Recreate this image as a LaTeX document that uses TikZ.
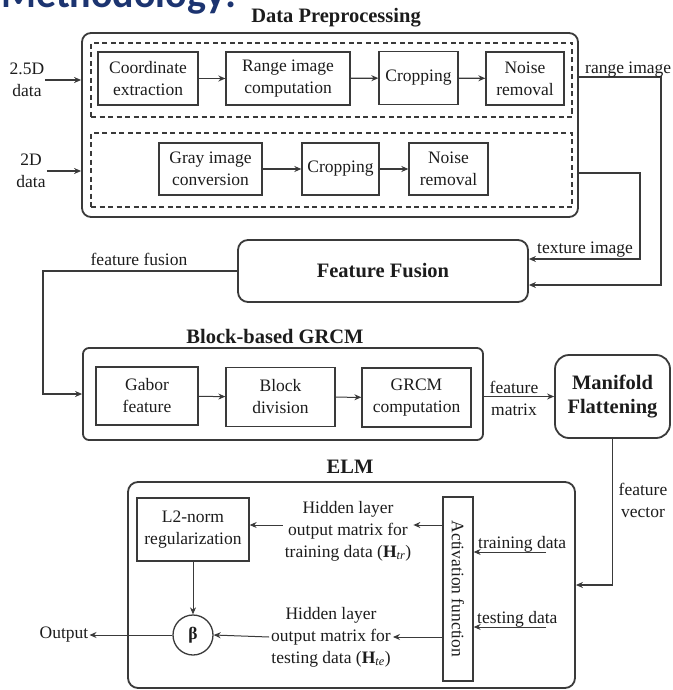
\documentclass[tikz,border=0pt]{standalone}
\usepackage{fontspec}
\setmainfont{Liberation Serif}
\newfontfamily\headfont{Carlito}
\usetikzlibrary{arrows.meta,calc}
\definecolor{ink}{RGB}{28,28,28}
\definecolor{wire}{RGB}{58,58,58}
\definecolor{navy}{RGB}{28,52,112}
\begin{document}
\begin{tikzpicture}[x=1pt,y=-1pt,
  every node/.style={text=ink, font=\fontsize{17.5}{22}\selectfont},
  box/.style={draw=wire, line width=1.3pt, align=center, inner sep=0pt},
  grp/.style={draw=wire, line width=1.8pt, rounded corners=9pt, inner sep=0pt},
  dsh/.style={draw=wire, line width=1.4pt, dash pattern=on 5pt off 3.5pt, inner sep=0pt},
  arr/.style={draw=wire, line width=1.3pt, -{Stealth[length=7pt,width=6pt]}},
  ttl/.style={font=\fontsize{20.5}{24}\selectfont\bfseries},
  lbl/.style={align=center, inner sep=1pt}
]
\useasboundingbox (0,0) rectangle (672,690);

% heading of the slide
\node[anchor=base west, inner sep=0pt, text=navy, font=\fontsize{40}{40}\headfont\bfseries] (head) at (1,8) {Methodology:};

% ---------------- Data preprocessing ----------------
\node[ttl] (dpt) at (336,18) {Data Preprocessing};
\node[grp, minimum width=496, minimum height=184] (dp) at (330,125) {};
\node[dsh, minimum width=481, minimum height=74] (d1) at (331.5,80) {};
\node[dsh, minimum width=481, minimum height=74] (d2) at (331.5,170) {};

\node[box, minimum width=100, minimum height=53] (ce) at (148,78.5) {Coordinate\\extraction};
\node[box, minimum width=124, minimum height=53] (ric) at (288,78.5) {Range image\\computation};
\node[box, minimum width=79, minimum height=53] (crop1) at (418.5,78) {Cropping};
\node[box, minimum width=78, minimum height=53] (nr1) at (525,78.5) {Noise\\removal};

\node[box, minimum width=103, minimum height=52] (gic) at (210.5,169) {Gray image\\conversion};
\node[box, minimum width=77, minimum height=52] (crop2) at (340.5,169) {Cropping};
\node[box, minimum width=79, minimum height=52] (nr2) at (448.5,169) {Noise\\removal};

\draw[arr] (ce) -- (ric);
\draw[arr] (ric) -- (crop1);
\draw[arr] (crop1) -- (nr1);
\draw[arr] (gic) -- (crop2);
\draw[arr] (crop2) -- (nr2);

\node[lbl] (l25) at (27,80) {2.5D\\data};
\node[lbl] (l2d) at (31,171) {2D\\data};
\draw[arr] (l25.east) -- (l25.east -| dp.west);
\draw[arr] (l2d.east) -- (l2d.east -| dp.west);

% ---------------- Feature fusion ----------------
\node[grp, rounded corners=10pt, minimum width=290, minimum height=62, ttl] (ff) at (383,271) {Feature Fusion};

\coordinate (rr) at (661,77);
\coordinate (tr) at (640,173);
\draw[arr] (dp.east |- rr) -- (rr) |- ($(ff.east)+(0,14)$);
\draw[arr] (dp.east |- tr) -- (tr) |- ($(ff.east)+(0,-12)$);
\node[lbl, anchor=base west] (lri) at (584,74) {range image};
\node[lbl, anchor=base west] (lti) at (536,253) {texture image};

% ---------------- Block-based GRCM ----------------
\node[ttl] (grt) at (275,336) {Block-based GRCM};
\node[grp, rounded corners=6pt, minimum width=400, minimum height=92] (gr) at (283,394) {};
\node[box, minimum width=102, minimum height=58] (gab) at (147,396) {Gabor\\feature};
\node[box, minimum width=109, minimum height=59] (bd) at (280.5,397) {Block\\division};
\node[box, minimum width=109, minimum height=59] (gc) at (416.5,397.5) {GRCM\\computation};
\draw[arr, line width=1pt] (gab) -- (bd);
\draw[arr, line width=1pt] (bd) -- (gc);

\coordinate (fl) at (43,271);
\draw[arr] (ff.west) -- (fl) |- (gr.west);
\node[lbl] (lff) at (139,259) {feature fusion};

% ---------------- Manifold flattening ----------------
\node[grp, rounded corners=14pt, minimum width=115, minimum height=83, ttl, align=center] (mf) at (612.5,396.5) {Manifold\\Flattening};
\draw[arr] (gr.east |- mf.west) -- (mf.west);
\node[lbl] (lfm) at (514,398.5) {feature\\matrix};

% ---------------- ELM ----------------
\node[ttl] (elmt) at (350,467) {ELM};
\node[grp, rounded corners=10pt, minimum width=447, minimum height=206] (elm) at (351.5,585) {};
\draw[arr] (mf.south) |- (elm.east);
\node[lbl] (lfv) at (643,500) {feature\\vector};

\node[box, minimum width=112, minimum height=63] (l2) at (193,529.5) {L2-norm\\regularization};
\node[draw=wire, line width=1.3pt, circle, minimum size=40, inner sep=0pt] (beta) at (193,635) {\textbf{β}};
\node[lbl] (out) at (64,635) {Output};

\node[box, minimum width=30, minimum height=184] (act) at (458,589) {};
\node[rotate=-90, inner sep=0pt] (acttxt) at (act.center) {Activation function};

\node[lbl, inner sep=2pt] (htr) at (348,531) {Hidden layer\\output matrix for\\training data (\textbf{H}\textsubscript{\textit{tr}})};
\node[lbl, inner sep=2pt] (hte) at (331,637) {Hidden layer\\output matrix for\\testing data (\textbf{H}\textsubscript{\textit{te}})};

\draw[arr, line width=1pt] (act.west |- 0,525) -- (htr.east |- 0,525);
\draw[arr, line width=1pt] (htr.west |- 0,525) -- (l2.east |- 0,525);
\draw[arr, line width=1pt] (act.west |- hte) -- (hte.east);
\draw[arr, line width=1pt] (hte.west) -- (beta.east);
\draw[arr, line width=1pt] (l2.south) -- (beta.north);
\draw[arr, line width=1pt] (beta.west) -- (out.east);

\coordinate (trs) at (546,552);
\coordinate (tes) at (546,627);
\draw[arr, line width=1pt] (trs) -- (trs -| act.east);
\draw[arr, line width=1pt] (tes) -- (tes -| act.east);
\node[lbl, anchor=base west] (ltr) at (477,548) {training data};
\node[lbl, anchor=base west] (lte) at (476,623) {testing data};
\end{tikzpicture}
\end{document}
